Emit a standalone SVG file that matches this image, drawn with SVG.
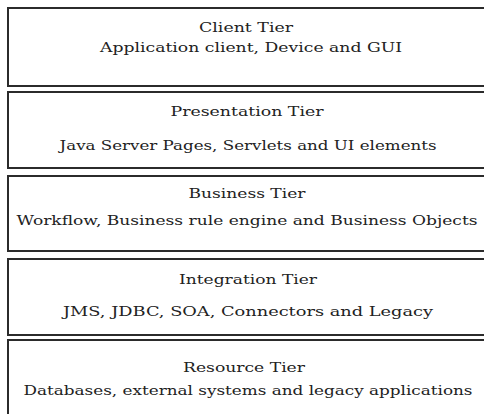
<svg xmlns="http://www.w3.org/2000/svg" width="484" height="414" viewBox="0 0 484 414">
<style>
.box{fill:#fff;stroke:#2b2b2b;stroke-width:2}
.t{font-family:"DejaVu Serif","Liberation Serif",serif;font-size:13px;fill:#222;text-anchor:middle}
</style>
<rect x="0" y="0" width="484" height="414" fill="#fff"/>
<g id="client">
<rect class="box" x="8" y="8" width="490" height="78"/>
<text class="t" x="246" y="32" textLength="94" lengthAdjust="spacingAndGlyphs">Client Tier</text>
<text class="t" x="251" y="52" textLength="302" lengthAdjust="spacingAndGlyphs">Application client, Device and GUI</text>
</g>
<g id="presentation">
<rect class="box" x="8" y="92" width="490" height="76"/>
<text class="t" x="247" y="116" textLength="153" lengthAdjust="spacingAndGlyphs">Presentation Tier</text>
<text class="t" x="248" y="150" textLength="377" lengthAdjust="spacingAndGlyphs">Java Server Pages, Servlets and UI elements</text>
</g>
<g id="business">
<rect class="box" x="8" y="176" width="490" height="75"/>
<text class="t" x="247" y="198" textLength="117" lengthAdjust="spacingAndGlyphs">Business Tier</text>
<text class="t" x="247" y="225" textLength="461" lengthAdjust="spacingAndGlyphs">Workflow, Business rule engine and Business Objects</text>
</g>
<g id="integration">
<rect class="box" x="8" y="259" width="490" height="76"/>
<text class="t" x="248" y="284" textLength="138" lengthAdjust="spacingAndGlyphs">Integration Tier</text>
<text class="t" x="248" y="316" textLength="370" lengthAdjust="spacingAndGlyphs">JMS, JDBC, SOA, Connectors and Legacy</text>
</g>
<g id="resource">
<rect class="box" x="8" y="340" width="490" height="90"/>
<text class="t" x="244" y="372" textLength="122" lengthAdjust="spacingAndGlyphs">Resource Tier</text>
<text class="t" x="248" y="395" textLength="449" lengthAdjust="spacingAndGlyphs">Databases, external systems and legacy applications</text>
</g>
<g id="connectors"></g>
</svg>
